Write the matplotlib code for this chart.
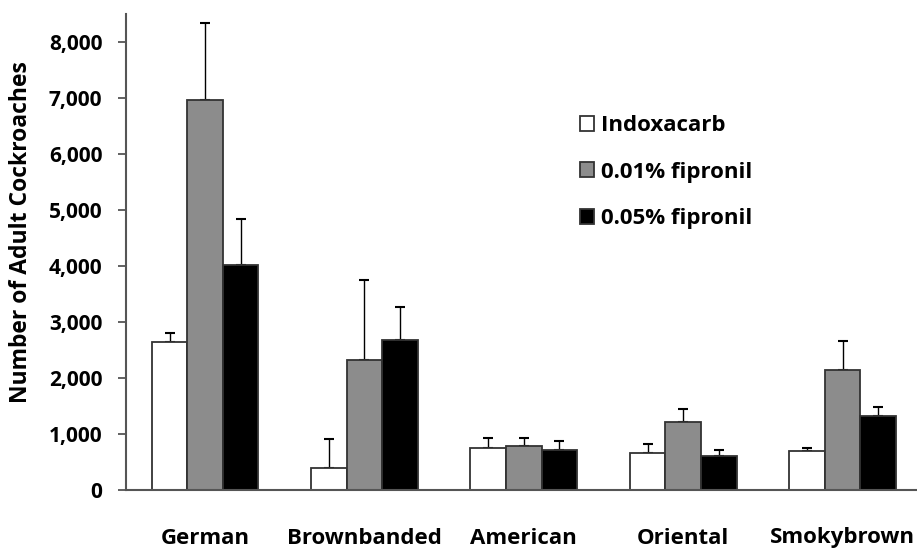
import numpy as np
import matplotlib.pyplot as plt

# categories and series
species = ["German", "Brownbanded", "American", "Oriental", "Smokybrown"]
legend_labels = ["Indoxacarb", "0.01% fipronil", "0.05% fipronil"]

indoxacarb = [2646, 387, 744, 655, 690]
fip_001 = [6973, 2321, 792, 1208, 2143]
fip_005 = [4010, 2673, 720, 613, 1327]

# upper error bars (SE)
indoxacarb_err = [156, 524, 179, 166, 54]
fip_001_err = [1370, 1429, 143, 232, 518]
fip_005_err = [828, 595, 161, 107, 161]

yticks = [0, 1000, 2000, 3000, 4000, 5000, 6000, 7000, 8000]

plt.rcParams['font.family'] = ['Open Sans', 'DejaVu Sans']
plt.rcParams['font.weight'] = 'bold'

fig = plt.figure(figsize=(9.17, 5.48), dpi=100)
ax = fig.add_axes([126 / 917, 58 / 548, 1 - 126 / 917, (490 - 14) / 548])

x = np.arange(len(species))
w = 0.223
colors = ["white", "#8c8c8c", "black"]
series = [indoxacarb, fip_001, fip_005]
errs = [indoxacarb_err, fip_001_err, fip_005_err]

for i, (vals, err, c, lab) in enumerate(zip(series, errs, colors, legend_labels)):
    pos = x + (i - 1) * w
    ax.bar(pos, vals, width=w, color=c, edgecolor="#333333", linewidth=1.3, label=lab, zorder=2)
    ax.errorbar(pos, vals, yerr=[np.zeros(len(vals)), err], fmt="none", ecolor="black",
                elinewidth=1.0, capsize=3.5, capthick=1.5, zorder=1)

ax.set_xlim(-0.496, 4.467)
ax.set_ylim(0, 8500)
ax.set_yticks(yticks)
ax.set_yticklabels(["{:,}".format(v) for v in yticks], fontsize=15, fontweight="bold")
ax.set_xticks(x)
ax.set_xticklabels(species, fontsize=16, fontweight="bold")
ax.tick_params(axis="x", length=0, pad=27)
ax.tick_params(axis="y", length=6, width=1.3, color="#555555", pad=11, direction="out")

ax.set_ylabel("Number of Adult Cockroaches", fontsize=16.5, fontweight="bold")
ax.yaxis.set_label_coords((33 - 126) / 791, (490 - 232) / 476)

ax.spines["top"].set_visible(False)
ax.spines["right"].set_visible(False)
for s in ["left", "bottom"]:
    ax.spines[s].set_color("#555555")
    ax.spines[s].set_linewidth(1.5)

leg = ax.legend(loc="upper left", bbox_to_anchor=(580 / 917, 1 - 115 / 548),
                bbox_transform=fig.transFigure, frameon=False, fontsize=16,
                handlelength=0.65, handleheight=0.65, handletextpad=0.3,
                labelspacing=1.15, borderpad=0, borderaxespad=0)
for t in leg.get_texts():
    t.set_fontweight("bold")

fig.savefig("out.png", dpi=100)
